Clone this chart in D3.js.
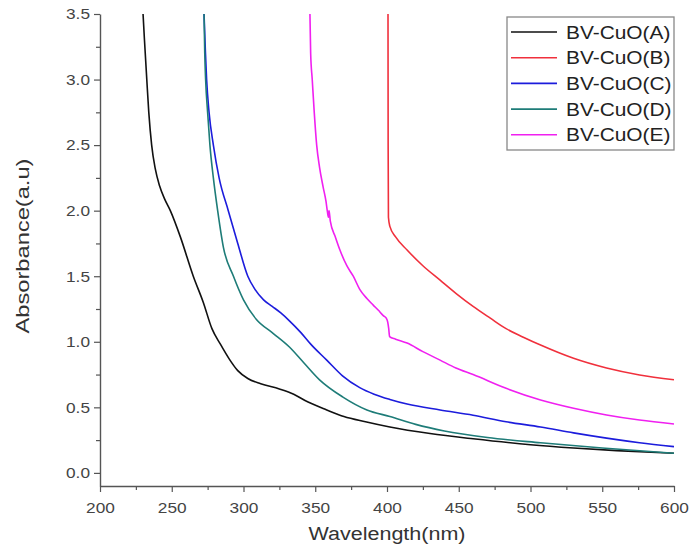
<!DOCTYPE html>
<html><head><meta charset="utf-8">
<script src="https://cdn.jsdelivr.net/npm/d3@7/dist/d3.min.js"></script>
<style>body{margin:0;background:#fff}svg{display:block}</style>
</head><body><svg id="c" width="691" height="556"></svg>
<script>
// ---- data ----
const xTicks = [200, 250, 300, 350, 400, 450, 500, 550, 600];
const yTicks = [0.0, 0.5, 1.0, 1.5, 2.0, 2.5, 3.0, 3.5];
const xMinorTicks = [225, 275, 325, 375, 425, 475, 525, 575];
const yMinorTicks = [0.25, 0.75, 1.25, 1.75, 2.25, 2.75, 3.25];
const seriesNames = ["BV-CuO(A)", "BV-CuO(B)", "BV-CuO(C)", "BV-CuO(D)", "BV-CuO(E)"];
const seriesColors = ["#111111", "#f0303c", "#1c1cdc", "#1e7c78", "#f020f0"];

const waveA = [230, 231, 232.6, 234, 236, 238.5, 241.5, 245, 249, 256, 265, 272, 278, 284, 290, 296, 303, 312, 325, 335, 345, 358, 370, 385, 402, 430, 460, 500, 530, 560, 600];
const absA  = [3.5, 3.3, 3.0, 2.75, 2.5, 2.32, 2.19, 2.09, 2.0, 1.8, 1.5, 1.3, 1.1, 0.98, 0.87, 0.78, 0.72, 0.68, 0.64, 0.6, 0.54, 0.48, 0.43, 0.39, 0.35, 0.3, 0.26, 0.215, 0.19, 0.17, 0.15];

const waveB = [400.7, 400.8, 401, 402, 406, 414, 425, 437, 448, 460, 472, 483, 495, 507, 530, 553, 576, 600];
const absB  = [3.5, 2.5, 1.95, 1.88, 1.8, 1.70, 1.58, 1.47, 1.37, 1.27, 1.18, 1.10, 1.035, 0.975, 0.874, 0.80, 0.747, 0.71];

const waveC = [272.5, 273.5, 274.3, 276, 279, 283, 289.4, 296, 303, 308, 314, 320, 326, 332, 340, 347, 358, 369, 381, 391, 402, 414, 437, 460, 483, 507, 530, 553, 576, 600];
const absC  = [3.5, 3.2, 3.0, 2.75, 2.5, 2.25, 2.0, 1.75, 1.5, 1.4, 1.32, 1.27, 1.22, 1.16, 1.07, 0.98, 0.86, 0.74, 0.65, 0.6, 0.56, 0.525, 0.48, 0.44, 0.39, 0.35, 0.305, 0.265, 0.23, 0.2];

const waveD = [272.5, 273, 273.6, 275, 276.6, 279, 282, 286, 293, 300, 309, 320, 332, 342, 353, 369, 386, 402, 420, 440, 470, 507, 550, 600];
const absD  = [3.5, 3.2, 3.0, 2.75, 2.5, 2.25, 2.0, 1.72, 1.5, 1.32, 1.17, 1.07, 0.96, 0.84, 0.71, 0.58, 0.48, 0.43, 0.37, 0.32, 0.27, 0.23, 0.19, 0.15];

const waveE = [346.3, 346.8, 347.9, 349.3, 351, 353, 355.5, 357.5, 358.5, 359.2, 359.6, 360.5, 364, 367.2, 372, 376.5, 381, 386, 390.4, 394, 397.4, 399.5, 400.5, 401.2, 401.8, 406, 414, 425, 437, 448, 460, 483, 507, 530, 553, 576, 600];
const absE  = [3.5, 3.2, 3.0, 2.75, 2.5, 2.33, 2.18, 2.07, 1.99, 1.95, 2.0, 1.92, 1.8, 1.7, 1.58, 1.5, 1.4, 1.33, 1.28, 1.24, 1.2, 1.18, 1.15, 1.1, 1.04, 1.02, 0.99, 0.925, 0.86, 0.8, 0.75, 0.645, 0.556, 0.493, 0.442, 0.403, 0.373];

const waves = [waveA, waveB, waveC, waveD, waveE];
const absorb = [absA, absB, absC, absD, absE];

// ---- chart ----
const svg = d3.select("#c");
const FONT = "'Liberation Sans', Arial, sans-serif";
const STRETCH = 1.15;
const x = d3.scaleLinear().domain([200, 600]).range([100, 674]);
const y = d3.scaleLinear().domain([-0.1, 3.5]).range([486, 14]);

function stretchText(sel, f) {
  sel.each(function () {
    const w = this.getComputedTextLength();
    d3.select(this).attr("textLength", w * f).attr("lengthAdjust", "spacingAndGlyphs");
  });
}

// minor ticks
const gxm = svg.append("g").attr("transform", "translate(0,486)")
  .call(d3.axisBottom(x).tickValues(xMinorTicks).tickSize(4).tickSizeOuter(0).tickFormat(""));
gxm.select(".domain").remove();
const gym = svg.append("g").attr("transform", "translate(100,0)")
  .call(d3.axisLeft(y).tickValues(yMinorTicks).tickSize(4).tickSizeOuter(0).tickFormat(""));
gym.select(".domain").remove();

// major axes
const gx = svg.append("g").attr("transform", "translate(0,486)")
  .call(d3.axisBottom(x).tickValues(xTicks).tickSize(6).tickSizeOuter(0).tickPadding(10).tickFormat(d3.format("d")));
const gy = svg.append("g").attr("transform", "translate(100,0)")
  .call(d3.axisLeft(y).tickValues(yTicks).tickSize(6).tickSizeOuter(0).tickPadding(4).tickFormat(d3.format(".1f")));

[gx, gy, gxm, gym].forEach(g => {
  g.selectAll("line").attr("stroke", "#555").attr("stroke-width", 1.2);
  g.selectAll(".domain").attr("stroke", "#555").attr("stroke-width", 1.4);
  g.selectAll("text").attr("fill", "#444").style("font-family", FONT).style("font-size", "15px");
});
stretchText(gx.selectAll("text"), STRETCH);
stretchText(gy.selectAll("text"), STRETCH);

// curves
const line = d3.line().x(d => x(d[0])).y(d => y(d[1])).curve(d3.curveMonotoneX);
waves.forEach((w, i) => {
  const pts = w.map((v, j) => [v, absorb[i][j]]);
  svg.append("path").datum(pts).attr("d", line)
    .attr("fill", "none").attr("stroke", seriesColors[i]).attr("stroke-width", 1.6)
    .attr("stroke-linejoin", "round");
});

// axis titles
svg.append("text").attr("x", 387).attr("y", 540).attr("text-anchor", "middle")
  .style("font-family", FONT).style("font-size", "18px").attr("fill", "#333")
  .attr("textLength", 157).attr("lengthAdjust", "spacingAndGlyphs")
  .text("Wavelength(nm)");
svg.append("text").attr("transform", "translate(29,246) rotate(-90)").attr("text-anchor", "middle")
  .style("font-family", FONT).style("font-size", "18px").attr("fill", "#333")
  .attr("textLength", 175).attr("lengthAdjust", "spacingAndGlyphs")
  .text("Absorbance(a.u)");

// legend
const lg = svg.append("g");
lg.append("rect").attr("x", 507).attr("y", 17).attr("width", 167).attr("height", 133)
  .attr("fill", "#fff").attr("stroke", "#888").attr("stroke-width", 1.3);
seriesNames.forEach((n, i) => {
  const cy = 32 + i * 25.7;
  lg.append("line").attr("x1", 511).attr("x2", 557).attr("y1", cy).attr("y2", cy)
    .attr("stroke", seriesColors[i]).attr("stroke-width", 1.6);
  const t = lg.append("text").attr("x", 566).attr("y", cy + 6.5)
    .style("font-family", FONT).style("font-size", "18px").attr("fill", "#222").text(n);
  stretchText(t, 1.16);
});
</script></body></html>
